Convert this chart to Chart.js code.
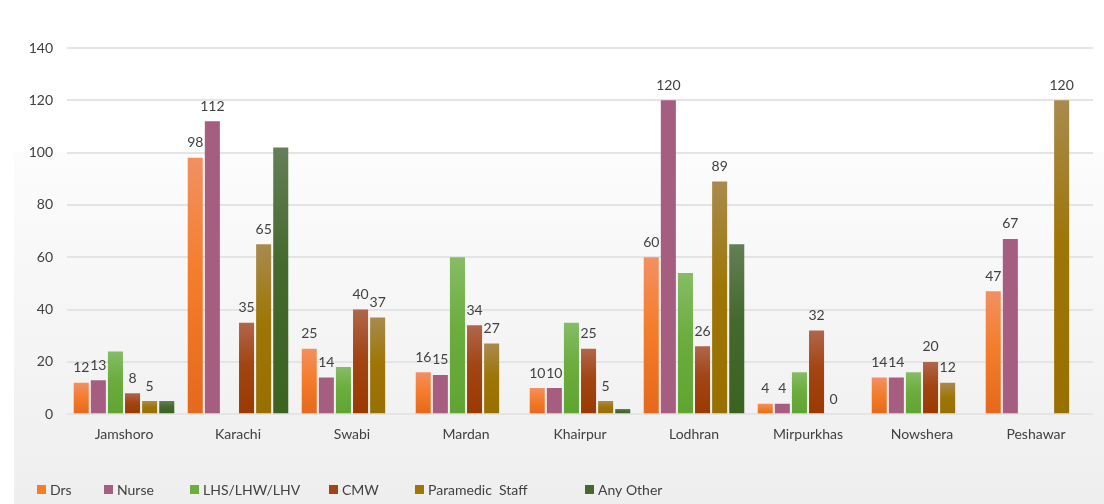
<!DOCTYPE html>
<html>
<head>
<meta charset="utf-8">
<script src="https://cdn.jsdelivr.net/npm/chart.js@4.4.1/dist/chart.umd.min.js"></script>
<style>
    html, body { margin: 0; padding: 0; background: #ffffff; }
    #wrap { width: 1104px; height: 504px; position: relative; }
</style>
</head>
<body>
<div id="wrap"><canvas id="staffChart"></canvas></div>
<script>
const districts = ['Jamshoro', 'Karachi', 'Swabi', 'Mardan', 'Khairpur', 'Lodhran', 'Mirpurkhas', 'Nowshera', 'Peshawar'];
const drs = [12, 98, 25, 16, 10, 60, 4, 14, 47];
const nurse = [13, 112, 14, 15, 10, 120, 4, 14, 67];
const lhs = [24, null, 18, 60, 35, 54, 16, 16, null];
const cmw = [8, 35, 40, 34, 25, 26, 32, 20, null];
const paramedic = [5, 65, 37, 27, 5, 89, 0, 12, 120];
const anyOther = [5, 102, null, null, 2, 65, null, null, null];
const yTicks = [0, 20, 40, 60, 80, 100, 120, 140];

const FONT = "'Lato', 'Open Sans', sans-serif";
const TEXT = '#404040';

// top, middle, bottom colour of each bar's gradient
const shades = {
    'Drs': ['#f29062', '#f47d2c', '#e5681c'],
    'Nurse': ['#a65e80', '#a65e80', '#a65e80'],
    'LHS/LHW/LHV': ['#86bc66', '#6cad3e', '#5fa431'],
    'CMW': ['#b0664a', '#a24514', '#9a3a00'],
    'Paramedic  Staff': ['#a98a4e', '#9e7608', '#987000'],
    'Any Other': ['#637f56', '#44692c', '#3a6320']
};

// left edge of each legend swatch
const legendX = [37, 104, 190, 329, 415, 585];
const legendY = 490;

function barFill(ctx) {
    const chart = ctx.chart;
    const cols = shades[ctx.dataset.label];
    const scale = chart.scales.y;
    if (!scale || ctx.parsed == null || ctx.parsed.y == null) return cols[1];
    const top = scale.getPixelForValue(ctx.parsed.y);
    const base = scale.getPixelForValue(0);
    if (!isFinite(top) || !isFinite(base) || base - top < 1) return cols[1];
    const g = chart.ctx.createLinearGradient(0, top, 0, base);
    g.addColorStop(0, cols[0]);
    g.addColorStop(0.45, cols[1]);
    g.addColorStop(1, cols[2]);
    return g;
}

function makeSet(label, data, labelled) {
    return {
        label: label,
        data: data,
        backgroundColor: barFill,
        borderWidth: 0,
        showValue: labelled,
        categoryPercentage: 0.9,
        barPercentage: 0.88
    };
}

// light grey panel behind the lower part of the chart
const panel = {
    id: 'panel',
    beforeDraw(chart) {
        const c = chart.ctx;
        const g = c.createLinearGradient(0, 152, 0, chart.height);
        g.addColorStop(0, '#fcfcfc');
        g.addColorStop(1, '#eeeeee');
        c.save();
        c.fillStyle = g;
        c.fillRect(14, 152, chart.width - 14, chart.height - 152);
        c.restore();
    }
};

// value labels above bars
const valueLabels = {
    id: 'valueLabels',
    afterDatasetsDraw(chart) {
        const c = chart.ctx;
        c.save();
        c.font = '14px ' + FONT;
        c.fillStyle = TEXT;
        c.textAlign = 'center';
        c.textBaseline = 'bottom';
        chart.data.datasets.forEach((ds, i) => {
            if (!ds.showValue) return;
            chart.getDatasetMeta(i).data.forEach((bar, j) => {
                const v = ds.data[j];
                if (v == null) return;
                c.fillText(String(v), bar.x, bar.y - 8);
            });
        });
        c.restore();
    }
};

// legend row along the bottom
const bottomLegend = {
    id: 'bottomLegend',
    afterDraw(chart) {
        const c = chart.ctx;
        c.save();
        c.font = '14px ' + FONT;
        c.textBaseline = 'middle';
        c.textAlign = 'left';
        chart.data.datasets.forEach((ds, i) => {
            const x = legendX[i];
            c.fillStyle = shades[ds.label][1];
            c.fillRect(x, legendY - 5, 9, 9);
            c.fillStyle = TEXT;
            c.fillText(ds.label, x + 13, legendY);
        });
        c.restore();
    }
};

new Chart(document.getElementById('staffChart'), {
    type: 'bar',
    data: {
        labels: districts,
        datasets: [
            makeSet('Drs', drs, true),
            makeSet('Nurse', nurse, true),
            makeSet('LHS/LHW/LHV', lhs, false),
            makeSet('CMW', cmw, true),
            makeSet('Paramedic  Staff', paramedic, true),
            makeSet('Any Other', anyOther, false)
        ]
    },
    options: {
        responsive: true,
        maintainAspectRatio: false,
        animation: false,
        layout: { padding: { top: 48, left: 17, right: 11, bottom: 57 } },
        plugins: {
            tooltip: { enabled: false },
            legend: { display: false }
        },
        scales: {
            x: {
                grid: { display: false },
                border: { display: false },
                ticks: { color: TEXT, font: { family: FONT, size: 14 }, padding: 4 }
            },
            y: {
                min: 0,
                max: 140,
                afterBuildTicks(axis) { axis.ticks = yTicks.map(v => ({ value: v })); },
                afterFit(axis) { axis.width = 50; },
                grid: { color: '#e4e4e4', lineWidth: 2, drawTicks: false },
                border: { display: false },
                ticks: { color: TEXT, font: { family: FONT, size: 14 }, padding: 14 }
            }
        }
    },
    plugins: [panel, valueLabels, bottomLegend]
});
</script>
</body>
</html>
